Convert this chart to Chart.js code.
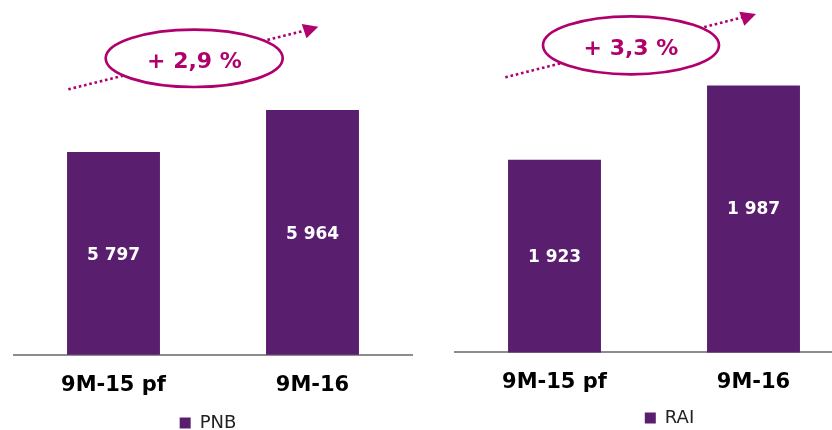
<!DOCTYPE html>
<html><head><meta charset="utf-8">
<script src="https://cdn.jsdelivr.net/npm/chart.js@4/dist/chart.umd.min.js"></script>
<style>
html,body{margin:0;padding:0;overflow:hidden;background:#fff;width:832px;height:430px;}
#c1{position:absolute;left:0;top:0;}
#c2{position:absolute;left:416px;top:0;}
</style></head><body>
<canvas id="c1" width="416" height="460"></canvas>
<canvas id="c2" width="437" height="460"></canvas>
<script>
// ---- data ----
const categories = ['9M-15 pf', '9M-16'];
const pnbValues = [5797, 5964];
const raiValues = [1923, 1987];
const seriesNames = ['PNB', 'RAI'];

// ---- style ----
const BAR = '#5A1E6E';
const MAG = '#B0006E';
const AXIS = '#8C8C8C';
const FONT = '"DejaVu Sans", Verdana, sans-serif';

function fmtNum(v){ return String(v).replace(/\B(?=(\d{3})+(?!\d))/g, ' '); }
function fmtPct(a, b){ return '+ ' + ((b / a - 1) * 100).toFixed(1).replace('.', ',') + ' %'; }

function valueLabels(dy) {
  return {
    id: 'valueLabels',
    afterDraw(chart) {
      const ctx = chart.ctx;
      const xs = chart.scales.x, ys = chart.scales.y;
      const data = chart.data.datasets[0].data;
      const base = ys.getPixelForValue(ys.min);
      ctx.save();
      ctx.globalAlpha = 1;
      ctx.fillStyle = '#FFFFFF';
      ctx.font = 'bold 17px ' + FONT;
      ctx.textAlign = 'center';
      ctx.textBaseline = 'alphabetic';
      for (let i = 0; i < data.length; i++) {
        const x = xs.getPixelForValue(i);
        const top = ys.getPixelForValue(data[i]);
        const mid = (top + base) / 2 + (dy[i] || 0);
        ctx.fillText(fmtNum(data[i]), x, mid + 0.3645 * 17);
      }
      ctx.restore();
    }
  };
}

function growthBadge(o) {
  return {
    id: 'growthBadge',
    afterDraw(chart) {
      const ctx = chart.ctx;
      ctx.save();
      ctx.strokeStyle = MAG;
      ctx.lineWidth = 2.6;
      ctx.setLineDash([2.6, 2.8]);
      ctx.beginPath();
      ctx.moveTo(o.line[0], o.line[1]);
      ctx.lineTo(o.line[2], o.line[3]);
      ctx.stroke();
      ctx.setLineDash([]);
      ctx.fillStyle = MAG;
      ctx.beginPath();
      ctx.moveTo(o.head[0], o.head[1]);
      ctx.lineTo(o.head[2], o.head[3]);
      ctx.lineTo(o.head[4], o.head[5]);
      ctx.closePath();
      ctx.fill();
      ctx.beginPath();
      ctx.ellipse(o.ell[0], o.ell[1], o.ell[2], o.ell[3], 0, 0, Math.PI * 2);
      ctx.fillStyle = '#FFFFFF';
      ctx.fill();
      ctx.lineWidth = 2.7;
      ctx.strokeStyle = MAG;
      ctx.stroke();
      const d = chart.data.datasets[0].data;
      ctx.fillStyle = MAG;
      ctx.font = 'bold 22px ' + FONT;
      ctx.textAlign = 'center';
      ctx.textBaseline = 'alphabetic';
      ctx.fillText(fmtPct(d[0], d[1]), o.text[0], o.text[1] + 0.3645 * 22);
      ctx.restore();
    }
  };
}

function legendShift(dx, dy) {
  return {
    id: 'legendShift',
    afterLayout(chart) {
      const lg = chart.legend;
      if (lg) { lg.left += dx; lg.right += dx; lg.top += dy; lg.bottom += dy; }
    }
  };
}

function makeChart(id, name, values, yMin, yMax, pad, badge, dy, ldx, ldy) {
  return new Chart(document.getElementById(id), {
    type: 'bar',
    data: {
      labels: categories,
      datasets: [{
        label: name,
        data: values,
        backgroundColor: BAR,
        borderWidth: 0,
        categoryPercentage: 1,
        barPercentage: 0.467
      }]
    },
    options: {
      responsive: false,
      animation: false,
      devicePixelRatio: 1,
      layout: { padding: pad },
      scales: {
        x: {
          grid: { display: false, drawTicks: false },
          border: { display: true, color: AXIS, width: 2 },
          ticks: { color: '#000000', font: { family: FONT, size: 21, weight: 'bold' }, padding: 18 }
        },
        y: { display: false, min: yMin, max: yMax }
      },
      plugins: {
        legend: {
          position: 'bottom',
          labels: { boxWidth: 11, boxHeight: 11, color: '#222222', font: { family: FONT, size: 18 }, padding: 10 }
        },
        tooltip: { enabled: false }
      }
    },
    plugins: [valueLabels(dy), growthBadge(badge), legendShift(ldx, ldy)]
  });
}

makeChart('c1', seriesNames[0], pnbValues, 4990, 6362,
  { left: 14, right: 4, top: 10, bottom: 6 },
  { line: [68.3, 89.3, 304, 30.8], head: [301.7, 24, 318.3, 26.7, 306.5, 38.3],
    ell: [194.2, 58.3, 88.5, 28.7], text: [194.5, 60] },
  [0, 0], -5, -12);

makeChart('c2', seriesNames[1], raiValues, 1757, 2052,
  { left: 39, right: 0, top: 10, bottom: 8.4 },
  { line: [89.3, 77.3, 326, 17.5], head: [323.3, 11.7, 340, 14, 328.3, 25.7],
    ell: [215, 45.3, 88, 29], text: [215, 47.2] },
  [0, -11], 15.5, -14.6);
</script>
</body></html>
